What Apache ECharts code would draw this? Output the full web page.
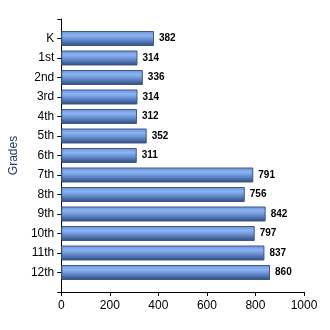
<!DOCTYPE html>
<html><head><meta charset="utf-8">
<script src="https://cdn.jsdelivr.net/npm/echarts@6/dist/echarts.min.js"></script>
<style>html,body{margin:0;padding:0;background:#fff}#c{width:330px;height:330px}</style>
</head><body><div id="c"></div>
<script>
var categories = ['K','1st','2nd','3rd','4th','5th','6th','7th','8th','9th','10th','11th','12th'];
var values = [382,314,336,314,312,352,311,791,756,842,797,837,860];
var xTicks = [0,200,400,600,800,1000];
var axisTitle = 'Grades';

var axisCats = [''].concat(categories).concat(['']);
var axisVals = [null].concat(values).concat([null]);

var chart = echarts.init(document.getElementById('c'), null, {renderer:'canvas'});
chart.setOption({
  animation:false,
  grid:{left:60,right:26,top:19,bottom:38,containLabel:false},
  xAxis:{
    type:'value', min:xTicks[0], max:xTicks[xTicks.length-1], interval:200,
    axisLine:{show:true,lineStyle:{color:'#000',width:1}},
    axisTick:{show:true,length:4,lineStyle:{color:'#000'}},
    splitLine:{show:false},
    axisLabel:{color:'#000',fontFamily:'Liberation Sans, Arial',fontSize:12,margin:8,
      formatter:function(v){return String(v);}}
  },
  yAxis:{
    type:'category', data:axisCats, inverse:true, boundaryGap:false,
    name:axisTitle, nameLocation:'middle', nameGap:35, nameRotate:90,
    nameTextStyle:{color:'#1f3a64',fontFamily:'Liberation Sans, Arial',fontSize:12},
    axisLine:{show:true,lineStyle:{color:'#000',width:1}},
    axisTick:{show:true,length:4,alignWithLabel:true,interval:0,lineStyle:{color:'#000'}},
    axisLabel:{color:'#000',fontFamily:'Liberation Sans, Arial',fontSize:12,margin:7,interval:0}
  },
  series:[{
    type:'bar', data:axisVals, barWidth:15,
    itemStyle:{
      borderColor:'#3e5888', borderWidth:1,
      color:new echarts.graphic.LinearGradient(0,0,0,1,[
        {offset:0,color:'#6a92d6'},
        {offset:0.3,color:'#8cb3f2'},
        {offset:0.55,color:'#6b92d4'},
        {offset:1,color:'#2d4a7a'}
      ])
    },
    label:{show:true,position:'right',distance:5,color:'#000',fontWeight:'bold',
      fontFamily:'Liberation Sans, Arial',fontSize:10}
  }]
});
</script></body></html>
